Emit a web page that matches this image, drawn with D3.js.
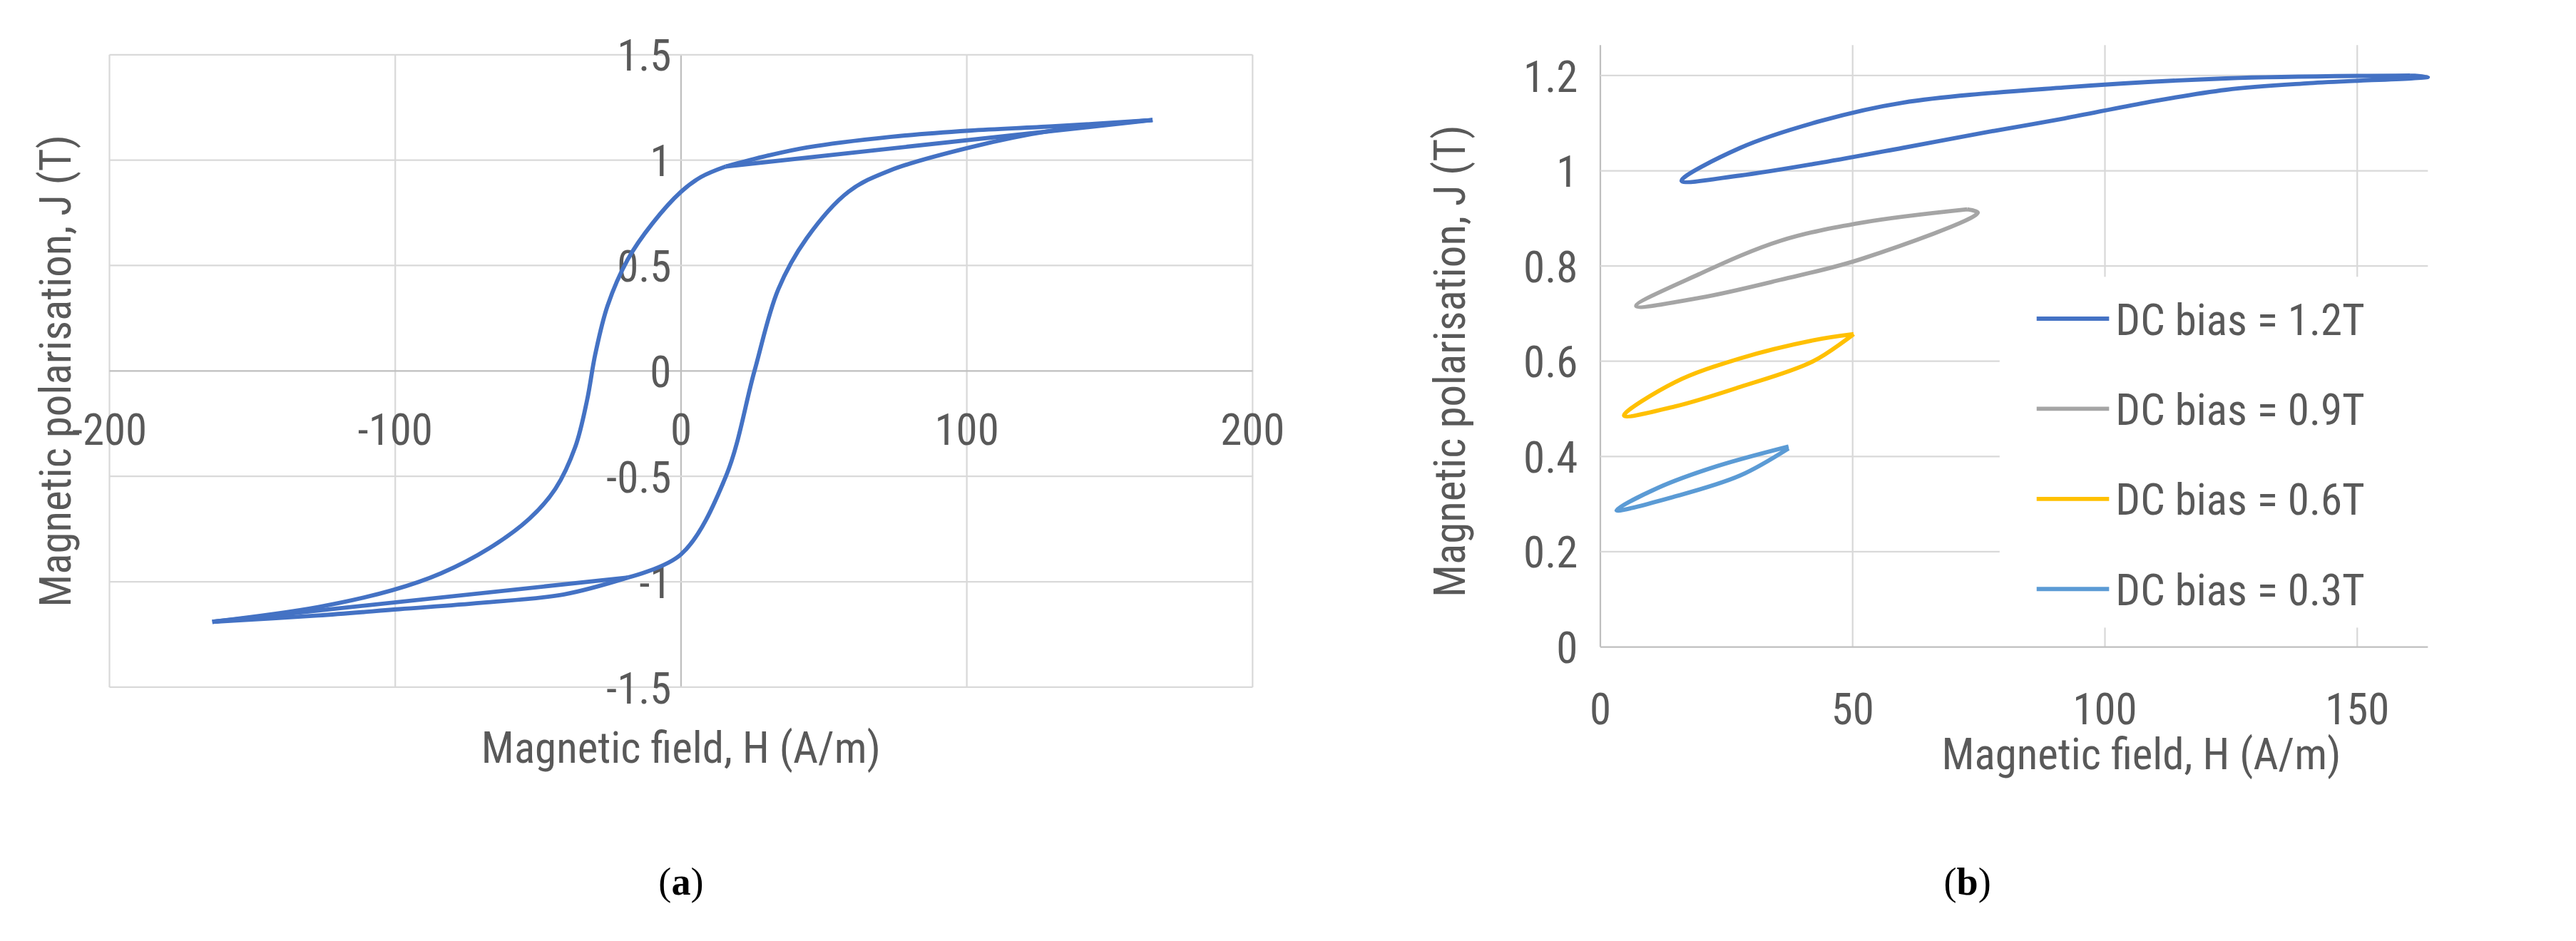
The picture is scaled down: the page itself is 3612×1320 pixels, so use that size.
<!DOCTYPE html>
<html>
<head>
<meta charset="utf-8">
<script src="https://cdn.jsdelivr.net/npm/d3@7"></script>
<style>
  body { margin: 0; background: #fff; }
  text { font-family: "Liberation Sans Narrow", "Roboto Condensed", Roboto, sans-serif; fill: #595959; }
</style>
</head>
<body>
<script>
// ---- data (a): full hysteresis loop, H in A/m, J in T ----
const aUpperH = [165, 130, 101, 73, 44, 30, 15.7];
const aUpperJ = [1.19, 1.16, 1.14, 1.11, 1.06, 1.02, 0.97];
const aDescH = [15.7, 7, 0, -10, -18.6, -25.7, -30, -32.9, -37, -44, -53, -67, -84, -101, -127, -164];
const aDescJ = [0.97, 0.92, 0.85, 0.70, 0.53, 0.31, 0.08, -0.14, -0.36, -0.56, -0.70, -0.84, -0.96, -1.04, -1.12, -1.19];
const aLowerH = [-164, -127, -98.6, -70, -41, -18.6];
const aLowerJ = [-1.19, -1.16, -1.13, -1.10, -1.06, -0.98];
const aAscH = [-18.6, 0, 15.7, 25.7, 34, 44, 58.6, 72.9, 101, 130, 165];
const aAscJ = [-0.98, -0.87, -0.5, 0, 0.386, 0.63, 0.85, 0.95, 1.06, 1.14, 1.19];
const aChordTopH = [15.7, 165];
const aChordTopJ = [0.97, 1.19];
const aChordBotH = [-18.6, -164];
const aChordBotJ = [-0.98, -1.19];
const aXTicks = [-200, -100, 0, 100, 200];
const aYTicks = [-1.5, -1, -0.5, 0, 0.5, 1, 1.5];

// ---- data (b): minor loops at DC bias ----
const bNames = ["DC bias = 1.2T", "DC bias = 0.9T", "DC bias = 0.6T", "DC bias = 0.3T"];
const bColors = ["#4472C4", "#A5A5A5", "#FFC000", "#5B9BD5"];
const bH = [
  [160.5, 124, 92, 59.9, 43.8, 27.7, 16.1, 27.7, 43.8, 59.9, 76, 92, 108, 124, 140.6, 164, 160.5],
  [72.7, 51.8, 35.7, 19.6, 7.1, 19.6, 35.7, 51.8, 74.8, 72.7],
  [50.2, 42.2, 27.7, 14.8, 4.7, 14.8, 27.7, 42.2, 50.2],
  [37.3, 22.9, 11.6, 3.2, 14.8, 27.7, 37.3]
];
const bJ = [
  [1.2, 1.194, 1.175, 1.143, 1.105, 1.048, 0.979, 0.99, 1.017, 1.048, 1.08, 1.11, 1.143, 1.17, 1.184, 1.197, 1.2],
  [0.919, 0.891, 0.853, 0.783, 0.716, 0.733, 0.771, 0.815, 0.912, 0.919],
  [0.657, 0.644, 0.606, 0.556, 0.486, 0.505, 0.546, 0.6, 0.657],
  [0.421, 0.379, 0.335, 0.287, 0.316, 0.36, 0.417]
];
const bXTicks = [0, 50, 100, 150];
const bYTicks = [0, 0.2, 0.4, 0.6, 0.8, 1, 1.2];

const W = 1600, H = 1600 * 1320 / 3612;
const svg = d3.select("body").append("svg")
  .attr("width", 3612).attr("height", 1320)
  .attr("viewBox", `0 0 ${W} ${H}`);

const grid = "#d9d9d9", axisCol = "#bfbfbf";
const fs = 27, lw = 2.6;
const zip = (xs, ys) => xs.map((x, i) => [x, ys[i]]);

// ================= chart (a) =================
const xa = d3.scaleLinear().domain([-200, 200]).range([68, 778]);
const ya = d3.scaleLinear().domain([-1.5, 1.5]).range([427, 34]);
const ga = svg.append("g");

ga.selectAll(".vg").data(aXTicks).enter().append("line")
  .attr("x1", d => xa(d)).attr("x2", d => xa(d))
  .attr("y1", ya(1.5)).attr("y2", ya(-1.5))
  .attr("stroke", d => d === 0 ? axisCol : grid).attr("stroke-width", 1);
ga.selectAll(".hg").data(aYTicks).enter().append("line")
  .attr("y1", d => ya(d)).attr("y2", d => ya(d))
  .attr("x1", xa(-200)).attr("x2", xa(200))
  .attr("stroke", d => d === 0 ? axisCol : grid).attr("stroke-width", 1);

ga.selectAll(".xt").data(aXTicks).enter().append("text")
  .attr("x", d => xa(d)).attr("y", ya(0) + 46)
  .attr("text-anchor", "middle").attr("font-size", fs)
  .text(d => d);
ga.selectAll(".yt").data(aYTicks).enter().append("text")
  .attr("x", xa(0) - 6).attr("y", d => ya(d) + 10)
  .attr("text-anchor", "end").attr("font-size", fs)
  .text(d => d);

const lineA = d3.line().x(d => xa(d[0])).y(d => ya(d[1])).curve(d3.curveCatmullRom);
[[aUpperH, aUpperJ], [aDescH, aDescJ], [aLowerH, aLowerJ], [aAscH, aAscJ],
 [aChordTopH, aChordTopJ], [aChordBotH, aChordBotJ]].forEach(([hs, js]) => {
  ga.append("path").attr("d", lineA(zip(hs, js)))
    .attr("fill", "none").attr("stroke", "#4472C4").attr("stroke-width", lw);
});

ga.append("text").attr("x", xa(0)).attr("y", 474)
  .attr("text-anchor", "middle").attr("font-size", fs)
  .text("Magnetic field, H (A/m)");
ga.append("text").attr("transform", `translate(44,${ya(0)}) rotate(-90)`)
  .attr("text-anchor", "middle").attr("font-size", fs)
  .text("Magnetic polarisation, J (T)");

// ================= chart (b) =================
const xb = d3.scaleLinear().domain([0, 164]).range([994, 1508]);
const yb = d3.scaleLinear().domain([0, 1.264]).range([402, 28]);
const gb = svg.append("g");

gb.selectAll(".vg").data(bXTicks).enter().append("line")
  .attr("x1", d => xb(d)).attr("x2", d => xb(d))
  .attr("y1", yb(1.264)).attr("y2", yb(0))
  .attr("stroke", d => d === 0 ? axisCol : grid).attr("stroke-width", 1);
gb.selectAll(".hg").data(bYTicks).enter().append("line")
  .attr("y1", d => yb(d)).attr("y2", d => yb(d))
  .attr("x1", xb(0)).attr("x2", xb(164))
  .attr("stroke", d => d === 0 ? axisCol : grid).attr("stroke-width", 1);

gb.selectAll(".xt").data(bXTicks).enter().append("text")
  .attr("x", d => xb(d)).attr("y", yb(0) + 48)
  .attr("text-anchor", "middle").attr("font-size", fs)
  .text(d => d);
gb.selectAll(".yt").data(bYTicks).enter().append("text")
  .attr("x", xb(0) - 14).attr("y", d => yb(d) + 10)
  .attr("text-anchor", "end").attr("font-size", fs)
  .text(d => d);

const lineB = d3.line().x(d => xb(d[0])).y(d => yb(d[1])).curve(d3.curveCatmullRom);
bH.forEach((hs, i) => {
  gb.append("path").attr("d", lineB(zip(hs, bJ[i])))
    .attr("fill", "none").attr("stroke", bColors[i]).attr("stroke-width", lw);
});

// legend with white background over the grid
const leg = gb.append("g");
leg.append("rect").attr("x", 1242).attr("y", 172).attr("width", 275).attr("height", 218).attr("fill", "#fff");
bNames.forEach((name, i) => {
  const y = 198 + i * 56;
  leg.append("line").attr("x1", 1265).attr("x2", 1310).attr("y1", y).attr("y2", y)
    .attr("stroke", bColors[i]).attr("stroke-width", lw);
  leg.append("text").attr("x", 1314).attr("y", y + 10).attr("font-size", fs).text(name);
});

gb.append("text").attr("x", 1330).attr("y", 478)
  .attr("text-anchor", "middle").attr("font-size", fs)
  .text("Magnetic field, H (A/m)");
gb.append("text").attr("transform", `translate(910,${yb(0.6)}) rotate(-90)`)
  .attr("text-anchor", "middle").attr("font-size", fs)
  .text("Magnetic polarisation, J (T)");

// panel labels
[["a", 423], ["b", 1222]].forEach(([l, x]) => {
  const t = svg.append("text").attr("x", x).attr("y", 556).attr("text-anchor", "middle")
    .attr("font-size", 24).style("font-family", "Liberation Serif, serif").style("fill", "#000");
  t.append("tspan").text("(");
  t.append("tspan").attr("font-weight", "bold").text(l);
  t.append("tspan").text(")");
});
</script>
</body>
</html>
